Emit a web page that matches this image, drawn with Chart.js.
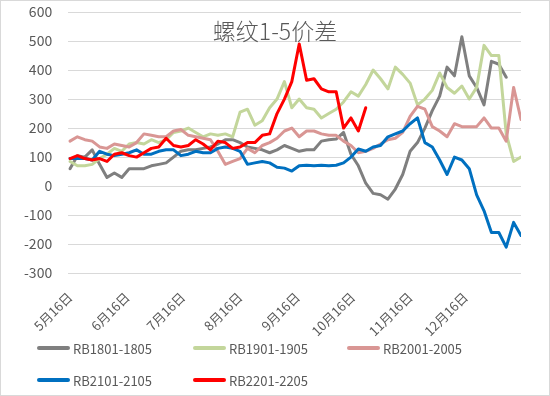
<!DOCTYPE html>
<html><head><meta charset="utf-8">
<script src="https://cdn.jsdelivr.net/npm/chart.js@4.4.0/dist/chart.umd.min.js"></script>
<style>
html,body{margin:0;padding:0;background:#fff;}
#wrap{position:relative;width:550px;height:396px;overflow:hidden;background:#fff;}
#c{position:absolute;left:0;top:0;}
#frame{position:absolute;left:0;top:0;width:550px;height:396px;box-sizing:border-box;border:1px solid #d9d9d9;pointer-events:none;}
#title{position:absolute;left:0;width:550px;top:16px;text-align:center;font-family:"Noto Sans CJK SC";font-weight:300;font-size:23px;line-height:28px;color:#595959;}
.item{position:absolute;height:20px;display:flex;align-items:center;font-family:"Noto Sans CJK SC";font-size:13px;color:#595959;white-space:nowrap;}
.swatch{width:33px;height:4px;border-radius:2px;margin-right:3px;}
</style></head>
<body>
<div id="wrap">
<canvas id="c" width="550" height="396"></canvas>
<div id="title">螺纹1-5价差</div>
<div id="legend"></div>
<div id="frame"></div>
</div>
<script>
// day offsets from 5月16日
const days = [0,4,8,12,16,20,24,28,32,36,40,44,48,52,56,60,64,68,72,76,80,84,88,92,96,100,104,108,112,116,120,124,128,132,136,140,144,148,152,156,160,164,168,172,176,180,184,188,192,196,200,204,208,212,216,220,224,228,232,236,240,244];
const tickDays = [0,31,61,92,123,153,184,214];
const tickLabels = ['5月16日','6月16日','7月16日','8月16日','9月16日','10月16日','11月16日','12月16日'];
const seriesNames = ['RB1801-1805','RB1901-1905','RB2001-2005','RB2101-2105','RB2201-2205'];
const rb1801 = [60,105,100,125,75,30,45,30,60,60,60,70,75,80,100,120,125,125,130,135,145,160,160,150,135,130,125,115,125,140,130,120,125,125,155,160,162,185,110,70,10,-25,-30,-45,-10,40,120,150,200,260,310,410,380,515,380,340,280,430,420,375,null,null];
const rb1901 = [85,70,70,75,95,110,130,120,145,150,145,160,150,160,185,190,200,185,170,180,175,180,170,255,265,210,225,270,300,360,270,300,270,265,235,250,265,290,325,310,350,400,370,335,410,385,355,280,300,330,390,340,320,345,300,340,485,450,450,180,85,100];
const rb2001 = [155,170,160,155,135,130,145,140,135,150,180,175,170,170,190,195,175,170,165,160,120,75,85,95,130,115,140,150,165,190,200,170,190,190,180,175,175,155,140,115,120,130,145,160,165,185,240,275,265,205,190,170,215,205,205,205,235,200,200,155,340,230];
const rb2101 = [95,95,95,90,120,110,105,110,115,125,110,110,120,125,125,105,110,120,115,115,130,135,130,120,75,80,85,80,65,62,52,70,72,70,72,70,72,80,100,128,120,135,140,170,180,190,215,235,150,135,90,40,100,90,60,-30,-85,-160,-160,-210,-125,-170];
const rb2201 = [95,105,95,90,95,85,110,115,105,100,115,130,135,165,140,135,140,160,145,125,155,150,130,135,150,150,175,180,250,300,360,490,365,370,335,325,325,200,235,190,270,null,null,null,null,null,null,null,null,null,null,null,null,null,null,null,null,null,null,null,null,null];
const seriesValues = [rb1801, rb1901, rb2001, rb2101, rb2201];
const colors = ['#7f7f7f','#c3d69b','#d99694','#0070c0','#ff0000'];
const orders = [5,4,3,2,1];

Chart.defaults.font.family = '"Noto Sans CJK SC"';
Chart.defaults.color = '#595959';

const datasets = seriesNames.map((name, k) => ({
  label: name,
  data: days.map((d, i) => ({x: d, y: seriesValues[k][i]})),
  borderColor: colors[k],
  backgroundColor: colors[k],
  borderWidth: 3,
  pointRadius: 0,
  tension: 0,
  fill: false,
  spanGaps: false,
  order: orders[k],
  borderJoinStyle: 'round',
  borderCapStyle: 'round'
}));

const chart = new Chart(document.getElementById('c'), {
  type: 'line',
  data: {datasets},
  options: {
    responsive: false,
    animation: false,
    layout: {padding: {left: 8, right: 29, top: 12, bottom: 49}},
    plugins: {legend: {display: false}, title: {display: false}, tooltip: {enabled: false}},
    scales: {
      x: {
        type: 'linear', min: -1, max: 244,
        grid: {display: false}, border: {display: false},
        afterBuildTicks: s => { s.ticks = tickDays.map(v => ({value: v})); },
        ticks: {autoSkip: false, minRotation: 45, maxRotation: 45, padding: 8,
          color: '#595959', font: {size: 13},
          callback: (v, i) => tickLabels[i]}
      },
      y: {
        min: -300, max: 600,
        afterFit: s => { s.paddingTop = 0; s.paddingBottom = 0; },
        ticks: {stepSize: 100, padding: 16, color: '#595959', font: {size: 14}},
        grid: {color: '#d9d9d9', drawTicks: false, lineWidth: 1},
        border: {display: false}
      }
    }
  }
});

// legend built from the chart's datasets
const legendPos = [[37,338],[193,338],[347,338],[37,370],[193,370]];
const lg = document.getElementById('legend');
chart.data.datasets.forEach((ds, i) => {
  const it = document.createElement('div');
  it.className = 'item';
  it.style.left = legendPos[i][0] + 'px';
  it.style.top = legendPos[i][1] + 'px';
  const sw = document.createElement('span');
  sw.className = 'swatch';
  sw.style.background = ds.borderColor;
  const tx = document.createElement('span');
  tx.textContent = ds.label;
  it.appendChild(sw); it.appendChild(tx);
  lg.appendChild(it);
});
</script>
</body></html>
